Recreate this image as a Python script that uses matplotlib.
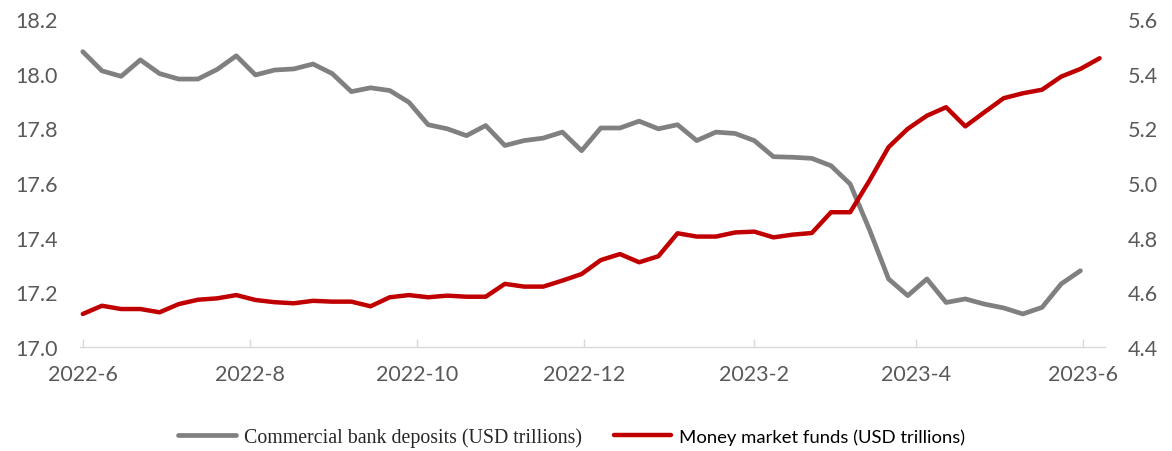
import numpy as np
import pandas as pd
import matplotlib
matplotlib.use("Agg")
import matplotlib.pyplot as plt

# weekly observations, starting 2022-06-01
start_date = "2022-06-01"

deposits = [18.08, 18.01, 17.99, 18.05, 18.00, 17.98, 17.98, 18.015, 18.065, 17.995,
            18.013, 18.017, 18.035, 18.0, 17.934, 17.948, 17.938, 17.895, 17.813, 17.798,
            17.773, 17.81, 17.737, 17.755, 17.764, 17.786, 17.718, 17.801, 17.801, 17.826,
            17.798, 17.813, 17.755, 17.786, 17.781, 17.755, 17.696, 17.694, 17.69, 17.663,
            17.596, 17.43, 17.249, 17.188, 17.249, 17.163, 17.176, 17.157, 17.143, 17.121,
            17.145, 17.231, 17.279]

mmf = [4.521, 4.551, 4.539, 4.539, 4.527, 4.557, 4.573, 4.578, 4.59, 4.572,
       4.564, 4.56, 4.569, 4.566, 4.566, 4.549, 4.582, 4.59, 4.582, 4.588,
       4.584, 4.584, 4.631, 4.621, 4.621, 4.643, 4.667, 4.718, 4.74, 4.71,
       4.732, 4.816, 4.804, 4.804, 4.819, 4.822, 4.801, 4.811, 4.817, 4.893,
       4.893, 5.008, 5.131, 5.198, 5.246, 5.277, 5.207, 5.259, 5.31, 5.328,
       5.341, 5.389, 5.417, 5.456]

left_ticks = [17.0, 17.2, 17.4, 17.6, 17.8, 18.0, 18.2]
right_ticks = [4.4, 4.6, 4.8, 5.0, 5.2, 5.4, 5.6]
x_tick_months = ["2022-06-01", "2022-08-01", "2022-10-01", "2022-12-01",
                 "2023-02-01", "2023-04-01", "2023-06-01"]
x_tick_labels = ["2022-6", "2022-8", "2022-10", "2022-12", "2023-2", "2023-4", "2023-6"]

dep_dates = pd.date_range(start_date, periods=len(deposits), freq="7D")
mmf_dates = pd.date_range(start_date, periods=len(mmf), freq="7D")

label_color = "#595959"
axis_color = "#d9d9d9"
tick_font = ["Lato", "DejaVu Sans"]

fig = plt.figure(figsize=(11.72, 4.52), dpi=100)
ax = fig.add_axes([0.0683, 0.230, 0.8746, 0.726])
ax2 = ax.twinx()

l1, = ax.plot(dep_dates, deposits, color="#808080", lw=3.4, solid_joinstyle="round",
              solid_capstyle="round")
l2, = ax2.plot(mmf_dates, mmf, color="#c00000", lw=3.2, solid_joinstyle="round",
               solid_capstyle="round")

ax.set_ylim(17.0, 18.2)
ax2.set_ylim(4.4, 5.6)
ax.set_yticks(left_ticks)
ax.set_yticklabels([f"{v:.1f}" for v in left_ticks])
ax2.set_yticks(right_ticks)
ax2.set_yticklabels([f"{v:.1f}" for v in right_ticks])

ax.set_xlim(pd.Timestamp("2022-05-31"), pd.Timestamp("2023-06-09"))
ax.set_xticks(pd.to_datetime(x_tick_months))
ax.set_xticklabels(x_tick_labels)

for a in (ax, ax2):
    for side in ("top", "left", "right"):
        a.spines[side].set_visible(False)
    a.spines["bottom"].set_color(axis_color)
    a.spines["bottom"].set_linewidth(1.0)
    a.tick_params(axis="y", length=0, pad=16, labelsize=15.5, labelcolor=label_color)
ax2.spines["bottom"].set_visible(False)
ax.tick_params(axis="x", direction="in", length=6, width=1, color=axis_color,
               pad=12, labelsize=15.5, labelcolor=label_color)

for lab in ax.get_xticklabels() + ax.get_yticklabels() + ax2.get_yticklabels():
    lab.set_fontfamily(tick_font)

leg = fig.legend([l1, l2],
                 ["Commercial bank deposits (USD trillions)", "Money market funds (USD trillions)"],
                 loc="center", bbox_to_anchor=(0.488, 0.030), ncol=2, frameon=False,
                 handlelength=2.9, handletextpad=0.4, columnspacing=1.6, fontsize=14.3)
leg.get_texts()[0].set_fontfamily(["Liberation Serif", "DejaVu Serif"])
leg.get_texts()[0].set_color("#262626")
leg.get_texts()[1].set_fontfamily(["Lato", "DejaVu Sans"])
leg.get_texts()[1].set_fontsize(13.3)
leg.get_texts()[1].set_color("black")

fig.savefig("out.png", dpi=100)
